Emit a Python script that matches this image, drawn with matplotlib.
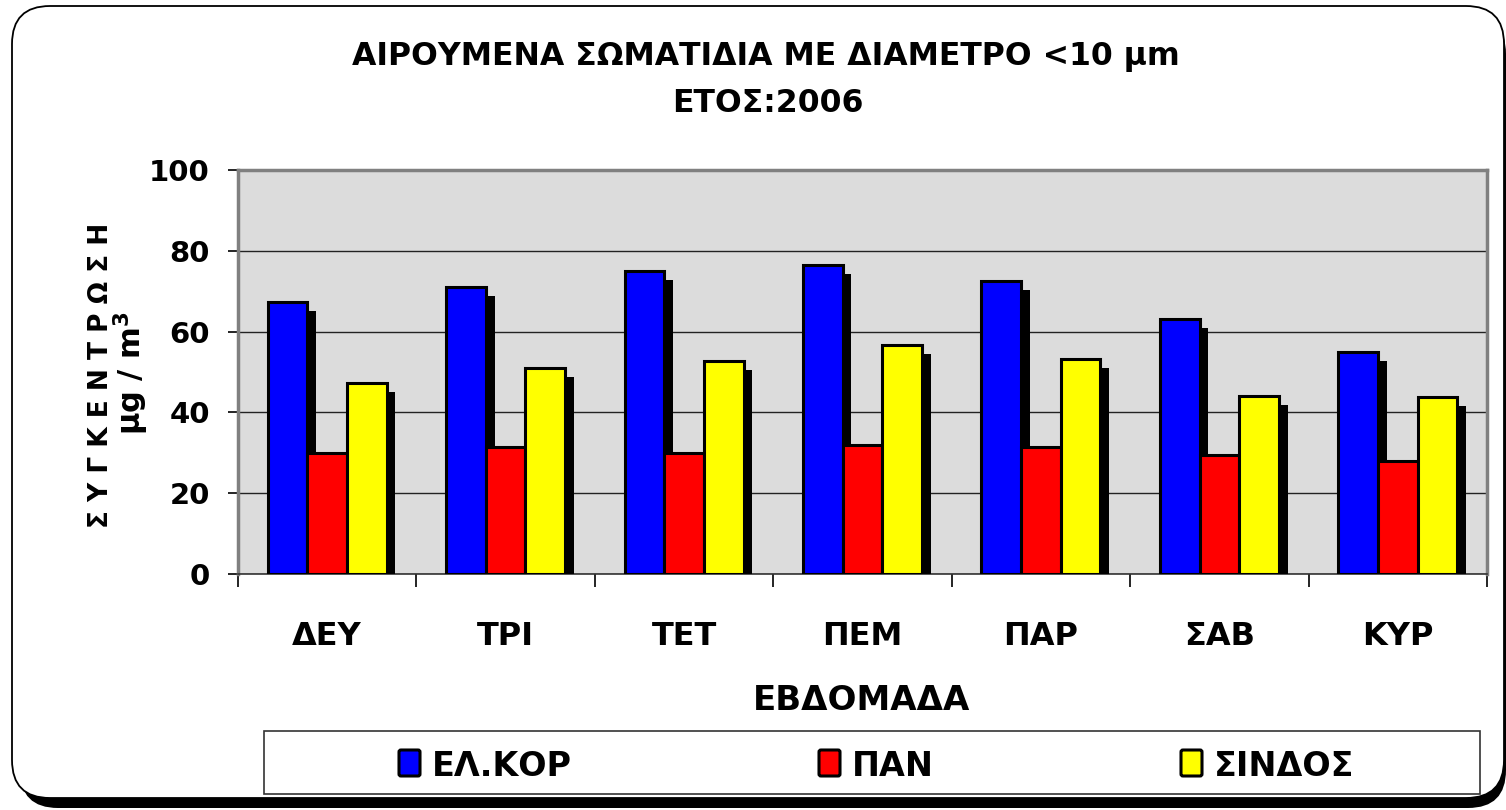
import matplotlib
matplotlib.use("Agg")
import matplotlib.pyplot as plt
import numpy as np
from matplotlib.patches import FancyBboxPatch, Rectangle
from matplotlib import patheffects as pe

# ---- data ----
categories = ["ΔΕΥ", "ΤΡΙ", "ΤΕΤ", "ΠΕΜ", "ΠΑΡ", "ΣΑΒ", "ΚΥΡ"]
series_names = ["ΕΛ.ΚΟΡ", "ΠΑΝ", "ΣΙΝΔΟΣ"]
el_kor = [67.3, 71.0, 75.0, 76.5, 72.5, 63.1, 55.0]
pan = [29.9, 31.4, 30.0, 32.0, 31.4, 29.5, 28.0]
sindos = [47.4, 51.0, 52.7, 56.7, 53.2, 44.0, 43.8]
series_values = [el_kor, pan, sindos]
colors = ["#0000FF", "#FF0000", "#FFFF00"]
yticks = [0, 20, 40, 60, 80, 100]

title_line1 = "ΑΙΡΟΥΜΕΝΑ ΣΩΜΑΤΙΔΙΑ ΜΕ ΔΙΑΜΕΤΡΟ <10 μm"
title_line2 = "ΕΤΟΣ:2006"
xlabel = "ΕΒΔΟΜΑΔΑ"
ylabel1 = "Σ Υ Γ Κ Ε Ν Τ Ρ Ω Σ Η"
ylabel2 = "μg / m$^{\\mathbf{3}}$"

W, H = 1506, 810
plt.rcParams["font.family"] = ["DejaVu Sans"]
plt.rcParams["font.weight"] = "bold"
plt.rcParams["mathtext.default"] = "bf"

fig = plt.figure(figsize=(W / 100, H / 100), dpi=100)

# background layer in pixel coordinates
bg = fig.add_axes([0, 0, 1, 1], zorder=0)
bg.set_xlim(0, W)
bg.set_ylim(H, 0)
bg.axis("off")
shadow = FancyBboxPatch((20, 16), 1486, 792, boxstyle="round,pad=0,rounding_size=38",
                        facecolor="black", edgecolor="black", lw=0)
frame = FancyBboxPatch((12, 6), 1492, 792, boxstyle="round,pad=0,rounding_size=38",
                       facecolor="white", edgecolor="black", lw=1.3)
bg.add_patch(shadow)
bg.add_patch(frame)

# legend box
bg.add_patch(Rectangle((264, 731), 1216, 63, facecolor="white", edgecolor="#333333", lw=1.2))
marker_left = [397, 817, 1179]
for name, col, mx in zip(series_names, colors, marker_left):
    bg.add_patch(FancyBboxPatch((mx + 2, 750), 21, 26, boxstyle="round,pad=0,rounding_size=2",
                                facecolor=col, edgecolor="black", lw=2.2))
    bg.text(mx + 35, 763, name, fontsize=24, fontweight="bold", ha="left", va="center_baseline")

# titles and labels
bg.text(766, 57, title_line1, fontsize=22.7, fontweight="bold", ha="center", va="center")
bg.text(768, 103, title_line2, fontsize=22.7, fontweight="bold", ha="center", va="center")
bg.text(862, 700, xlabel, fontsize=24.5, fontweight="bold", ha="center", va="center")
bg.text(101, 375, ylabel1, fontsize=19, fontweight="bold", ha="center", va="center", rotation=90)
bg.text(131, 373, ylabel2, fontsize=22, fontweight="bold", ha="center", va="center", rotation=90)

# main plot
left, right, top, bottom = 238, 1487, 170, 574
ax = fig.add_axes([left / W, 1 - bottom / H, (right - left) / W, (bottom - top) / H], zorder=2)
ax.set_facecolor("#dcdcdc")

n = len(categories)
x = np.arange(n)
bw = 1 / 4.5
for i, (vals, col) in enumerate(zip(series_values, colors)):
    bars = ax.bar(x + (i - 1) * bw, vals, width=bw, color=col, edgecolor="black",
                  linewidth=2.2, zorder=3)
    for b in bars:
        b.set_path_effects([pe.SimplePatchShadow(offset=(6.3, -6.5), shadow_rgbFace="black", alpha=1.0),
                            pe.Normal()])

ax.set_xlim(-0.5, n - 0.5)
ax.set_ylim(0, 100)
ax.set_yticks(yticks)
ax.set_yticklabels([str(v) for v in yticks], fontsize=21, fontweight="bold")
ax.set_xticks(x)
ax.set_xticklabels(categories, fontsize=23, fontweight="bold")
ax.set_xticks(np.arange(-0.5, n, 1.0), minor=True)
ax.tick_params(axis="x", which="major", length=0, pad=34)
ax.tick_params(axis="x", which="minor", length=9, width=1.2, color="black", direction="out")
ax.tick_params(axis="y", which="major", length=7.2, width=1.2, color="black", direction="out", pad=13)
ax.yaxis.grid(True, color="#222222", linewidth=1.0, zorder=1)
ax.set_axisbelow(True)
for s in ["left", "top", "right"]:
    ax.spines[s].set_color("#808080")
    ax.spines[s].set_linewidth(2.5)
ax.spines["bottom"].set_color("#333333")
ax.spines["bottom"].set_linewidth(1.2)

fig.savefig("out.png", dpi=100)
